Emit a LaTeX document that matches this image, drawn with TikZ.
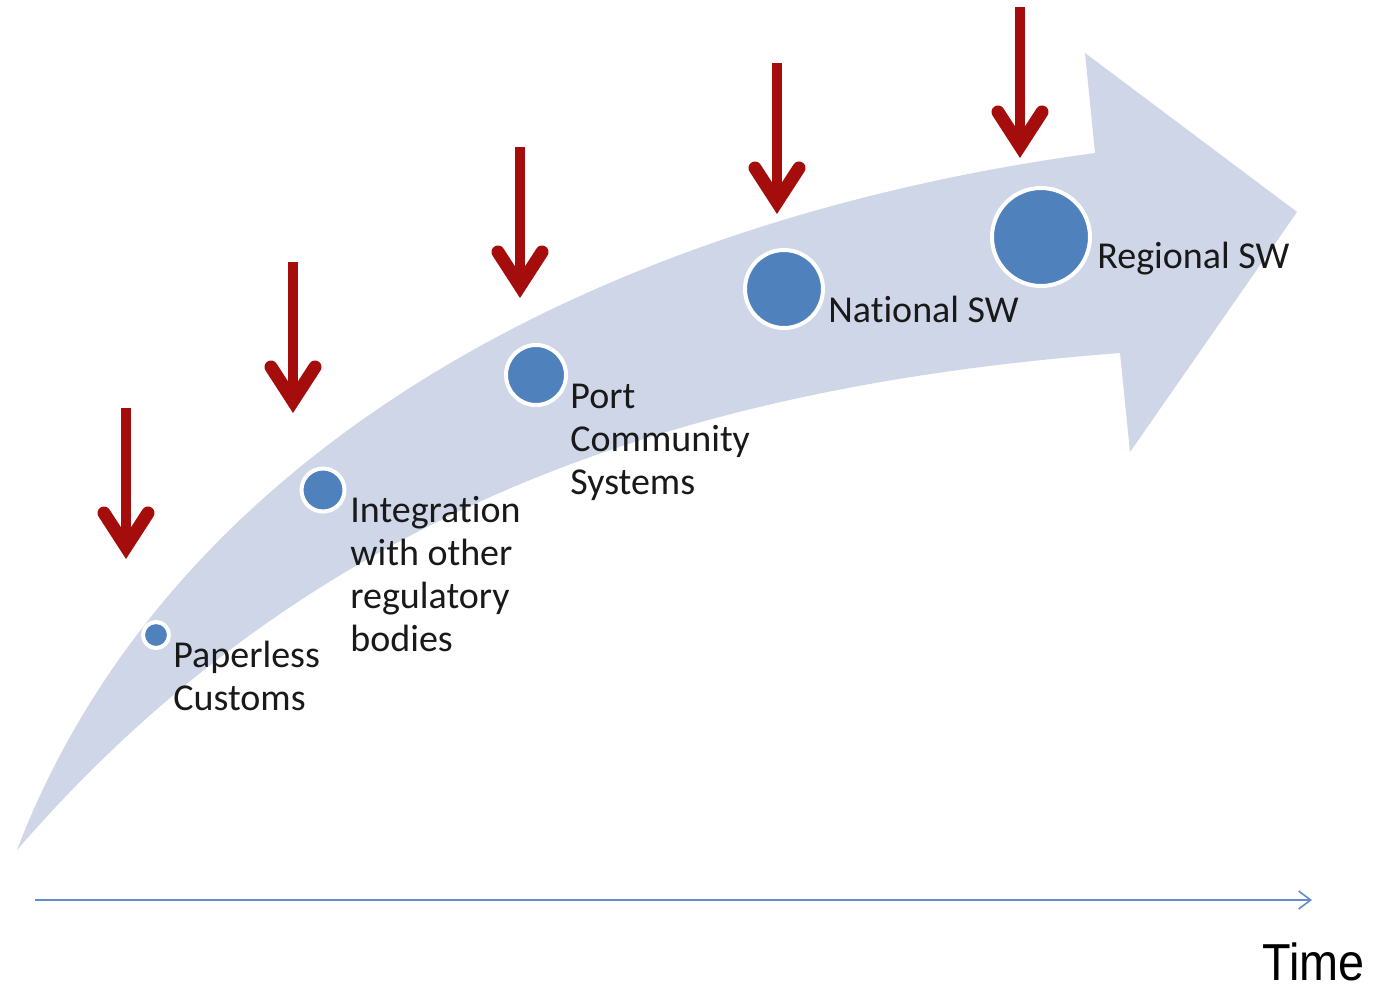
\documentclass[tikz,border=0pt]{standalone}
\usepackage{fontspec}
\setmainfont{Carlito}[Ligatures=NoCommon]
\newfontfamily\timefont{Liberation Sans}
\usetikzlibrary{arrows.meta,calc}
\definecolor{bandfill}{RGB}{206,214,232}
\definecolor{dotblue}{RGB}{79,129,189}
\definecolor{marker}{RGB}{165,12,12}
\definecolor{axisblue}{RGB}{100,140,200}
\definecolor{txt}{RGB}{25,25,25}
\begin{document}
\begin{tikzpicture}[x=0.5pt,y=-0.5pt,
  dot/.style={circle,fill=dotblue,draw=white,line width=2pt,inner sep=0pt},
  lbl/.style={anchor=base west,inner sep=0pt,text=txt,font=\fontsize{19}{21.5}\selectfont},
  shaft/.style={draw=marker,line width=5pt},
  chevron/.style={draw=marker,line width=6.5pt,line cap=round,line join=miter}]
\fill[white] (0,0) rectangle (1393,991);
\useasboundingbox (0,0) rectangle (1393,991);
% big curved arrow
\fill[bandfill] (17,850) .. controls (170,450) and (600,220) .. (1095,153)
  -- (1085,53) -- (1297,212) -- (1130,452) -- (1120,353)
  .. controls (700,385) and (320,500) .. (17,850) -- cycle;
% dots
\node[dot,minimum size=13pt] (d1) at (156,635) {};
\node[dot,minimum size=21.5pt] (d2) at (323,490) {};
\node[dot,minimum size=30pt] (d3) at (536,375) {};
\node[dot,minimum size=39pt] (d4) at (784,289) {};
\node[dot,minimum size=49pt] (d5) at (1041,237) {};
% labels
\node[lbl] (t1) at (173,667) {\vtop{\hbox{Paperless}\hbox{Customs}}};
\node[lbl] (t2) at (350,522) {\vtop{\hbox{Integration}\hbox{with other}\hbox{regulatory}\hbox{bodies}}};
\node[lbl] (t3) at (570,408) {\vtop{\hbox{Port}\hbox{Community}\hbox{Systems}}};
\node[lbl] (t4) at (828,322) {National SW};
\node[lbl] (t5) at (1097,268) {Regional SW};
% red markers
\foreach \n/\x/\t in {1/126/408,2/293/262,3/520/147,4/777/63,5/1020/7}{
  \coordinate (m\n top) at (\x,\t);
  \coordinate (m\n tip) at (\x,\t+152);
  \draw[shaft] (m\n top) -- ($(m\n tip)+(0,-14)$);
  \draw[chevron] ($(m\n tip)+(-22,-47)$) -- ($(m\n tip)+(0,-13)$) -- ($(m\n tip)+(22,-47)$);
}
% time axis
\coordinate (ax0) at (35,900);
\coordinate (ax1) at (1312,900);
\draw[axisblue,line width=1pt,-{Straight Barb[length=6pt,width=9pt,line width=0.8pt]}] (ax0) -- (ax1);
\node[anchor=base west,inner sep=0pt,text=black,font=\timefont\fontsize{26}{30}\selectfont] (time) at (1262,980) {\scalebox{0.9}[1]{Time}};
\end{tikzpicture}
\end{document}
